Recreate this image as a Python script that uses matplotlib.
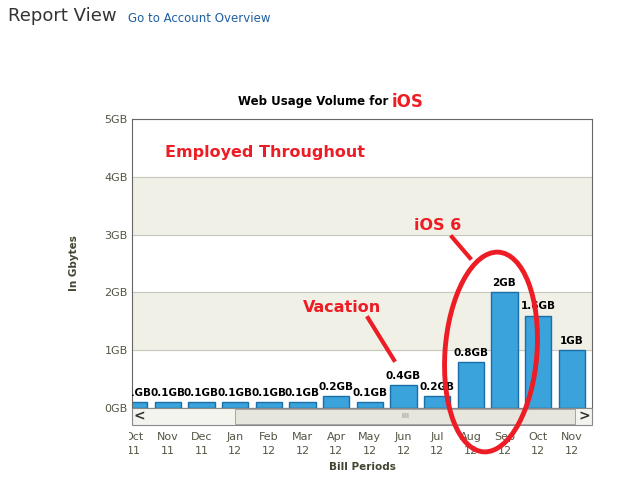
import matplotlib
matplotlib.use("Agg")
import matplotlib.pyplot as plt
from matplotlib.patches import Ellipse, Rectangle
from matplotlib.lines import Line2D
from matplotlib.transforms import Bbox

months = ["Oct\n11","Nov\n11","Dec\n11","Jan\n12","Feb\n12","Mar\n12","Apr\n12","May\n12",
          "Jun\n12","Jul\n12","Aug\n12","Sep\n12","Oct\n12","Nov\n12"]
values = [0.1,0.1,0.1,0.1,0.1,0.1,0.2,0.1,0.4,0.2,0.8,2.0,1.6,1.0]
labels = ["0.1GB","0.1GB","0.1GB","0.1GB","0.1GB","0.1GB","0.2GB","0.1GB","0.4GB","0.2GB",
          "0.8GB","2GB","1.6GB","1GB"]
yticks = [0,1,2,3,4,5]
ytick_labels = ["0GB","1GB","2GB","3GB","4GB","5GB"]

W, H = 643, 480
fig = plt.figure(figsize=(W/100, H/100), dpi=100)
def fx(p): return p/W
def fy(p): return 1-p/H

ax = fig.add_axes([fx(132), fy(408), fx(592)-fx(132), fy(119)-fy(408)])
x = list(range(len(months)))
for lo in (1, 3):
    ax.axhspan(lo, lo+1, color="#f0f0e6", zorder=0)
for yv in yticks:
    ax.axhline(yv, color="#c8c8c0", lw=0.8, zorder=0.5)
ax.bar(x, values, width=0.78, color="#3aa3dc", edgecolor="#1b6fa8", lw=1, zorder=2)
for xi, v, l in zip(x, values, labels):
    ax.text(xi, v+0.07, l, ha="center", va="bottom", fontsize=7.5, fontweight="bold", zorder=3, clip_on=True)
ax.set_xlim(-0.06, 13.6)
ax.set_ylim(0, 5)
ax.set_yticks(yticks)
ax.set_yticklabels(ytick_labels, fontsize=8, color="#555544")
ax.set_xticks([])
ax.tick_params(axis="y", length=0, pad=3)
for s in ax.spines.values():
    s.set_color("#666666")
ax.set_ylabel("In Gbytes", fontsize=7.5, fontweight="bold", color="#444433", labelpad=18)

clipbox = Bbox([[129, 0], [W, H]])
for xi, m in zip(x, months):
    xp = ax.transData.transform((xi, 0))[0]
    t = fig.text(xp/W, fy(444), m, ha="center", va="center", fontsize=8, color="#555544", linespacing=1.4)
    t.set_clip_box(clipbox); t.set_clip_on(True)
fig.text(fx(362), fy(467), "Bill Periods", ha="center", va="center", fontsize=7.5, fontweight="bold", color="#444433")

# scrollbar
fig.patches.append(Rectangle((fx(132), fy(425)), fx(592)-fx(132), fy(408)-fy(425), transform=fig.transFigure,
                             facecolor="#f4f4ee", edgecolor="#888888", lw=0.8))
fig.patches.append(Rectangle((fx(235), fy(424)), fx(575)-fx(235), fy(409)-fy(424), transform=fig.transFigure,
                             facecolor="#e6e6dc", edgecolor="#999999", lw=0.6))
fig.text(fx(139), fy(416), "<", ha="center", va="center", fontsize=10, fontweight="bold", color="#333333")
fig.text(fx(584), fy(416), ">", ha="center", va="center", fontsize=10, fontweight="bold", color="#333333")
fig.text(fx(405), fy(416), "IIII", ha="center", va="center", fontsize=5, color="#888888")

# header
fig.text(fx(8), fy(16), "Report View", ha="left", va="center", fontsize=13, color="#333333")
fig.text(fx(128), fy(19), "Go to Account Overview", ha="left", va="center", fontsize=8.5, color="#1f5f9f")
fig.text(fx(388), fy(101), "Web Usage Volume for", ha="right", va="center", fontsize=8.5, fontweight="bold")
fig.text(fx(392), fy(102), "iOS", ha="left", va="center", fontsize=12, fontweight="bold", color="#ee1c24")

red = "#ee1c24"
fig.text(fx(165), fy(152), "Employed Throughout", ha="left", va="center", fontsize=11.5, fontweight="bold", color=red)
fig.text(fx(414), fy(226), "iOS 6", ha="left", va="center", fontsize=11.5, fontweight="bold", color=red)
fig.text(fx(303), fy(307), "Vacation", ha="left", va="center", fontsize=11.5, fontweight="bold", color=red)
fig.lines.append(Line2D([fx(452), fx(470)], [fy(237), fy(258)], transform=fig.transFigure, color=red, lw=3))
fig.lines.append(Line2D([fx(368), fx(394)], [fy(318), fy(360)], transform=fig.transFigure, color=red, lw=3))
fig.patches.append(Ellipse((fx(491), fy(352)), fx(92), 200/H, angle=-3, transform=fig.transFigure,
                           facecolor="none", edgecolor=red, lw=3.5, zorder=10))

fig.savefig("out.png", dpi=100)
